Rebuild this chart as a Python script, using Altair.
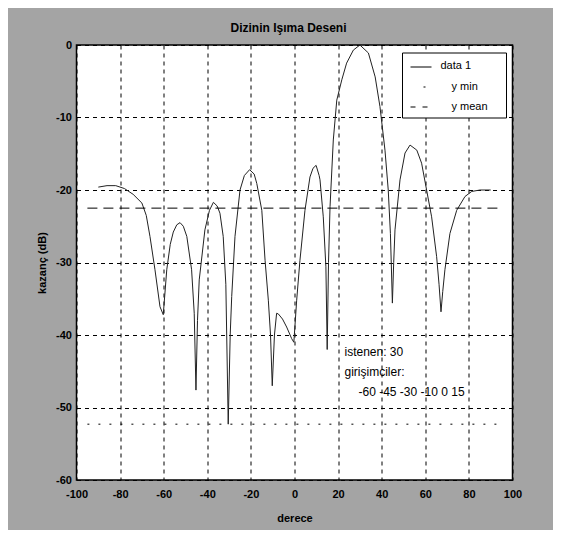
import altair as alt
import pandas as pd

# ---- data ----
angles = [-90, -86, -82, -78, -74, -70, -68, -66.3, -64, -61.7, -60.2, -58.6, -57, -55.6, -54,
          -52.5, -51, -49.4, -47.2, -46, -45.2, -44.5, -43.7, -41.1, -39, -37.2, -35.5, -34.2,
          -32.7, -31.5, -30.4, -29.5, -28.8, -27.3, -25, -23, -20.6, -18.5, -17.3, -15, -13.5,
          -12, -11, -10.2, -9.2, -8.2, -7.4, -5.5, -3.6, -1.3, -0.3, 1, 2.5, 4.8, 7.1, 8.5, 9.9,
          11.3, 11.7, 13.2, 14.4, 15, 15.6, 16.3, 17.8, 19.4, 21.7, 23.9, 27, 30, 33.9, 37, 39.2,
          41.5, 43, 44, 44.9, 45.5, 46.1, 48.4, 50.7, 53, 56.1, 58.3, 60.6, 62.9, 65.2, 66.3,
          67.2, 68, 69, 71.3, 74.4, 78.2, 81.3, 85.1, 90]
gain_db = [-19.6, -19.4, -19.4, -19.8, -20.6, -21.8, -23.5, -26.4, -31, -36.1, -37.2, -31, -27.5,
           -25.8, -24.8, -24.5, -25, -26.4, -31, -37, -47.6, -38, -32.4, -25.5, -22.8, -21.7,
           -22.2, -23.2, -26.4, -33, -52.3, -40, -34.7, -26.4, -20, -18, -17.2, -17.8, -19.1,
           -22.8, -29.7, -35.2, -40, -47, -40, -37, -37.1, -37.8, -38.9, -40.5, -41, -35.2,
           -29.7, -22.8, -18.2, -17, -16.6, -18, -18.6, -23.7, -30.6, -42, -30, -22.3, -13.1,
           -7.6, -4.8, -2.5, -0.7, 0, -1.1, -4.4, -8.5, -14.5, -20, -26, -35.6, -30, -25.5,
           -18.6, -14.9, -13.8, -14.5, -16.3, -20, -23.7, -29.2, -33, -36.8, -34, -31, -26,
           -22.8, -20.9, -20.2, -20, -20]

y_min_value = -52.3
y_mean_value = -22.5
stat_x_range = [-95, 95]

x_ticks = [-100, -80, -60, -40, -20, 0, 20, 40, 60, 80, 100]
y_ticks = [0, -10, -20, -30, -40, -50, -60]

title_text = "Dizinin Işıma Deseni"
x_title = "derece"
y_title = "kazanç (dB)"
legend_labels = ["data 1", "y min", "y mean"]
note_lines = ["istenen: 30", "girişimciler:", "-60 -45 -30 -10 0 15"]

FONT = "Liberation Sans"
W, H = 436, 435

df = pd.DataFrame({"aci": angles, "kazanc": gain_db})
stats = pd.DataFrame({
    "x": [stat_x_range[0]], "x2": [stat_x_range[1]],
    "ymin": [y_min_value], "ymean": [y_mean_value],
})
one = pd.DataFrame({"k": [0]})

xscale = alt.Scale(domain=[-100, 100], nice=False, zero=False)
yscale = alt.Scale(domain=[-60, 0], nice=False, zero=False)

grid_kw = dict(grid=True, gridDash=[4, 4], gridColor="black", gridOpacity=1, gridWidth=1,
               ticks=False, domain=False, labelFont=FONT, labelFontSize=11,
               labelFontWeight="bold", labelColor="black", titleFont=FONT,
               titleFontSize=11, titleFontWeight="bold", titleColor="black",
               labelExpr="'' + datum.value")

x_axis = alt.Axis(values=x_ticks, title=x_title, labelPadding=8, titlePadding=13,
                  labelFlush=False, **grid_kw)
y_axis = alt.Axis(values=y_ticks, title=y_title, labelPadding=5, titlePadding=8,
                  labelFlush=False, **grid_kw)

curve = alt.Chart(df).mark_line(color="#222222", strokeWidth=1).encode(
    x=alt.X("aci:Q", scale=xscale, axis=x_axis),
    y=alt.Y("kazanc:Q", scale=yscale, axis=y_axis),
    order="aci:Q",
)

min_line = alt.Chart(stats).mark_rule(color="black", strokeWidth=1, strokeDash=[2, 9]).encode(
    x=alt.X("x:Q", scale=xscale), x2="x2:Q", y=alt.Y("ymin:Q", scale=yscale))
mean_line = alt.Chart(stats).mark_rule(color="black", strokeWidth=1, strokeDash=[10, 6]).encode(
    x=alt.X("x:Q", scale=xscale), x2="x2:Q", y=alt.Y("ymean:Q", scale=yscale))

# legend box
leg_box = alt.Chart(one).mark_rect(fill="white", stroke="black", strokeWidth=1).encode(
    x=alt.value(326), x2=alt.value(430), y=alt.value(8), y2=alt.value(73))
leg_l1 = alt.Chart(one).mark_rule(color="black", strokeWidth=1).encode(
    x=alt.value(334), x2=alt.value(355), y=alt.value(22))
leg_l2 = alt.Chart(one).mark_rule(color="black", strokeWidth=1, strokeDash=[2, 9]).encode(
    x=alt.value(347), x2=alt.value(350), y=alt.value(42))
leg_l3 = alt.Chart(one).mark_rule(color="black", strokeWidth=1, strokeDash=[5, 7]).encode(
    x=alt.value(334), x2=alt.value(351), y=alt.value(62))

def txt(s, x, y, size=12):
    return alt.Chart(one).mark_text(text=s, align="left", baseline="middle", font=FONT,
                                    fontSize=size, color="black").encode(
        x=alt.value(x), y=alt.value(y))

leg_t = [txt(legend_labels[0], 364, 21, 11), txt(legend_labels[1], 375, 42, 11),
         txt(legend_labels[2], 375, 62, 11)]
notes = [txt(note_lines[0], 268, 307), txt(note_lines[1], 268, 327), txt(note_lines[2], 282, 347)]

chart = alt.layer(curve, min_line, mean_line, leg_box, leg_l1, leg_l2, leg_l3, *leg_t, *notes).properties(
    width=W, height=H,
    title=alt.TitleParams(title_text, font=FONT, fontSize=12, fontWeight="bold", color="black",
                          anchor="middle", offset=4, dx=-6),
    autosize=alt.AutoSizeParams(type="none"),
    padding={"left": 68.5, "top": 37, "right": 40, "bottom": 50},
).configure(background="#a4a4a4").configure_view(fill="white", stroke="black", strokeWidth=1.5)

chart.save("out.html", embed_options={"renderer": "svg", "actions": False})
